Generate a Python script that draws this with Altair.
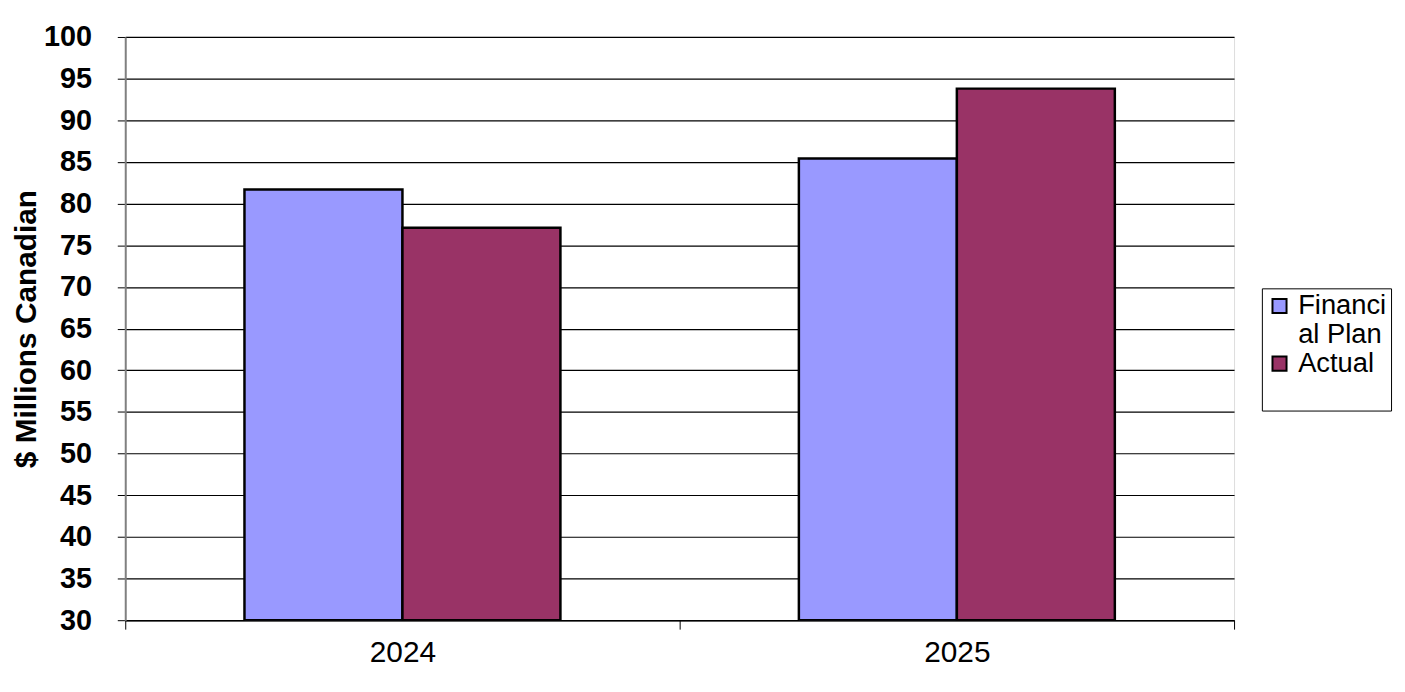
import altair as alt
import pandas as pd

years = ["2024", "2025"]
series = ["Financial Plan", "Actual"]
plan_values = [81.7, 85.4]
actual_values = [77.1, 93.8]
colors = ["#9999FF", "#993366"]

rows = []
for i, y in enumerate(years):
    rows.append({"year": y, "series": series[0], "value": plan_values[i]})
    rows.append({"year": y, "series": series[1], "value": actual_values[i]})
df = pd.DataFrame(rows)

font = "Liberation Sans"

chart = alt.Chart(df).mark_bar(stroke="black", strokeWidth=2.5, clip=True).encode(
    x=alt.X("year:N", title=None,
            scale=alt.Scale(paddingInner=0, paddingOuter=0),
            axis=alt.Axis(labelAngle=0, labelFont=font, labelFontSize=30,
                          labelColor="black", labelPadding=9, tickBand="extent",
                          tickColor="black", tickSize=9, domainColor="black",
                          domainWidth=1.5, grid=False)),
    xOffset=alt.XOffset("series:N", sort=series,
                        scale=alt.Scale(paddingInner=0, paddingOuter=0.7547)),
    y=alt.Y("value:Q", title="$ Millions Canadian",
            scale=alt.Scale(domain=[30, 100], nice=False, zero=False),
            axis=alt.Axis(values=list(range(30, 101, 5)), labelFont=font,
                          labelFontSize=29, labelFontWeight="bold", labelColor="black",
                          labelPadding=26, tickColor="black", tickSize=8,
                          domainColor="#808080", domainWidth=2,
                          grid=True, gridColor="black", gridWidth=1.2,
                          titleFont=font, titleFontSize=30, titleFontWeight="bold",
                          titleColor="black", titlePadding=2)),
    y2=alt.datum(30),
    color=alt.Color("series:N", sort=series,
                    scale=alt.Scale(domain=series, range=colors),
                    legend=alt.Legend(title=None, orient="none", legendX=1144, legendY=253,
                                      labelFont=font, labelFontSize=27.5, labelColor="black",
                                      labelExpr="datum.label == 'Financial Plan' ? ['Financi', 'al Plan'] : [datum.label, ' ']",
                                      symbolType="square", symbolSize=200,
                                      symbolStrokeColor="black", symbolStrokeWidth=2,
                                      strokeColor="black", fillColor="white",
                                      padding=4, labelOffset=5, rowPadding=0)),
).properties(
    width=1116, height=587,
    padding={"left": 3, "top": 13, "right": 5, "bottom": 5},
).configure_view(
    fill="#C0C0C0", stroke="#808080", strokeWidth=2,
).configure(background="white")

chart.save("out.html", embed_options={"renderer": "svg", "actions": False})
